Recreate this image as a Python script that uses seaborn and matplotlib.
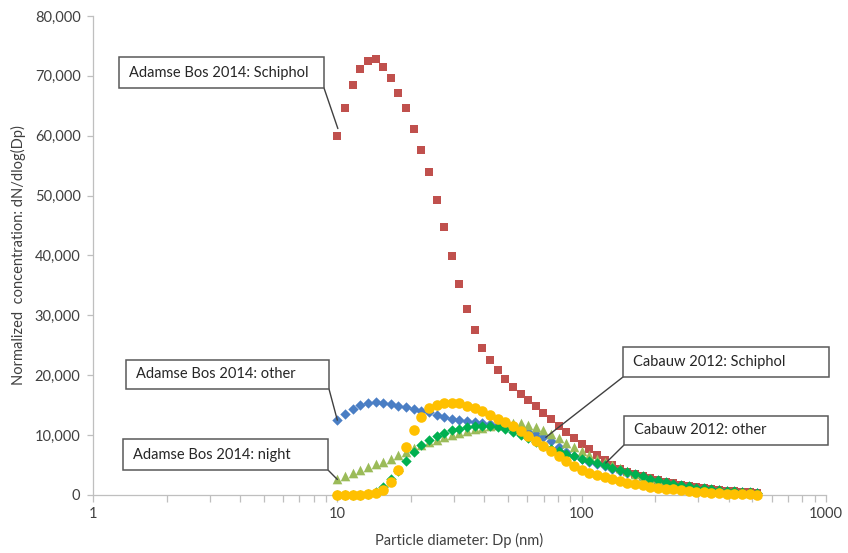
import matplotlib
matplotlib.use("Agg")
import matplotlib.pyplot as plt
from matplotlib.patches import Rectangle
from matplotlib.ticker import FuncFormatter, LogLocator, NullFormatter
import seaborn as sns

# particle diameters (nm), 32 channels per decade from 10 nm
diameter_nm = [10.0, 10.75, 11.55, 12.41, 13.34, 14.33, 15.40, 16.55, 17.78, 19.11,
               20.54, 22.07, 23.71, 25.48, 27.38, 29.43, 31.62, 33.98, 36.52, 39.24,
               42.17, 45.32, 48.70, 52.33, 56.23, 60.43, 64.94, 69.78, 74.99, 80.58,
               86.60, 93.06, 100.0, 107.5, 115.5, 124.1, 133.4, 143.3, 154.0, 165.5,
               177.8, 191.1, 205.4, 220.7, 237.1, 254.8, 273.8, 294.3, 316.2, 339.8,
               365.2, 392.4, 421.7, 453.2, 487.0, 523.3]

adamse_schiphol = [60000, 64600, 68500, 71100, 72500, 72800, 71500, 69700, 67200, 64600,
                   61200, 57700, 53900, 49300, 44800, 39900, 35300, 31100, 27600, 24600,
                   22600, 20900, 19300, 18100, 16900, 15900, 14800, 13700, 12700, 11600,
                   10500, 9600, 8600, 7700, 6700, 5800, 5000, 4300, 3900, 3550,
                   3200, 2850, 2550, 2250, 1980, 1730, 1520, 1320, 1150, 1000,
                   860, 740, 630, 540, 460, 390]

adamse_other = [12500, 13600, 14400, 15000, 15300, 15450, 15350, 15150, 14900, 14650,
                14350, 14100, 13800, 13400, 13000, 12750, 12550, 12350, 12150, 11950,
                11800, 11650, 11300, 11000, 10700, 10450, 10200, 9700, 9000, 8100,
                7200, 6500, 6000, 5550, 5150, 4800, 4400, 4000, 3650, 3300,
                2950, 2650, 2350, 2050, 1800, 1570, 1380, 1200, 1050, 900,
                780, 660, 560, 470, 390, 320]

adamse_night = [2600, 3150, 3600, 4100, 4600, 5100, 5550, 6000, 6600, 7200,
                7800, 8300, 8800, 9250, 9650, 10000, 10350, 10650, 10950, 11250,
                11500, 11700, 11850, 11950, 11950, 11750, 11400, 10900, 10250, 9500,
                8750, 8000, 7300, 6650, 6050, 5500, 4950, 4450, 4000, 3550,
                3150, 2800, 2450, 2150, 1880, 1630, 1420, 1230, 1060, 910,
                780, 660, 560, 470, 390, 320]

cabauw_other = [0, 0, 0, 50, 150, 500, 1300, 2600, 4000, 5700,
                7200, 8300, 9200, 9900, 10400, 10800, 11100, 11350, 11450, 11500,
                11500, 11350, 11050, 10600, 10100, 9500, 8900, 8250, 7750, 7300,
                6900, 6450, 6050, 5650, 5300, 4950, 4550, 4150, 3800, 3450,
                3100, 2750, 2450, 2150, 1900, 1650, 1450, 1250, 1100, 950,
                820, 700, 600, 500, 420, 350]

cabauw_schiphol = [0, 0, 0, 50, 150, 400, 900, 2100, 4200, 8000,
                   10900, 13000, 14500, 15100, 15350, 15400, 15300, 14900, 14500, 14000,
                   13400, 12750, 12150, 11450, 10650, 9900, 9100, 8200, 7300, 6450,
                   5650, 4900, 4250, 3750, 3400, 3000, 2650, 2350, 2080, 1830,
                   1600, 1400, 1230, 1080, 940, 810, 690, 580, 480, 390,
                   310, 240, 180, 130, 90, 60]

sns.set_theme(style="ticks")
plt.rcParams["font.family"] = ["Lato", "DejaVu Sans"]

W, H = 848, 553
fig = plt.figure(figsize=(W / 100, H / 100), dpi=100)
ax = fig.add_axes([93 / W, 1 - 495 / H, (826 - 93) / W, (495 - 16) / H])

# drawn in this order so the overlaps look like the original
series = [
    (adamse_other, "D", "#4A7EC4", 28),
    (adamse_schiphol, "s", "#C0504D", 40),
    (adamse_night, "^", "#9BBB59", 48),
    (cabauw_other, "D", "#00B050", 28),
    (cabauw_schiphol, "o", "#FFC000", 58),
]
for i, (vals, mk, col, size) in enumerate(series):
    sns.scatterplot(x=diameter_nm, y=vals, marker=mk, color=col, s=size,
                    linewidth=0, ax=ax, zorder=3 + i, clip_on=False, legend=False)

ax.set_xscale("log")
ax.set_xlim(1, 1000)
ax.set_ylim(0, 80000)
ax.set_yticks(range(0, 80001, 10000))
ax.yaxis.set_major_formatter(FuncFormatter(lambda v, _: f"{v:,.0f}"))
ax.set_xticks([1, 10, 100, 1000])
ax.xaxis.set_major_formatter(FuncFormatter(lambda v, _: f"{v:g}"))
ax.xaxis.set_minor_locator(LogLocator(base=10, subs=range(2, 10)))
ax.xaxis.set_minor_formatter(NullFormatter())

sns.despine(ax=ax)
for side in ["left", "bottom"]:
    ax.spines[side].set_color("#BFBFBF")
    ax.spines[side].set_linewidth(0.9)
ax.tick_params(axis="both", which="both", direction="out", color="#BFBFBF",
               labelcolor="#404040", labelsize=10.5, width=0.9)
ax.tick_params(axis="x", which="both", length=5, pad=4)
ax.tick_params(axis="y", which="major", length=4, pad=5)

ax.set_xlabel("Particle diameter: Dp (nm)", fontsize=10.5, color="#404040", labelpad=8)
ax.set_ylabel("Normalized  concentration: dN/dlog(Dp)", fontsize=10.5, color="#404040", labelpad=6)


def fig_xy(px, py):
    return px / W, 1 - py / H


# label boxes in pixel positions, pointer corner, pointer target (data)
callouts = [
    ("Adamse Bos 2014: Schiphol", (119, 57, 324, 88), (324, 88), (10.05, 61200)),
    ("Adamse Bos 2014: other", (126, 360, 329, 389), (329, 389), (10.0, 12500)),
    ("Adamse Bos 2014: night", (123, 439, 328, 470), (328, 470), (10.0, 2600)),
    ("Cabauw 2012: Schiphol", (623, 347, 829, 377), (623, 377), (71.3, 9630)),
    ("Cabauw 2012: other", (624, 416, 828, 445), (624, 445), (125.5, 5340)),
]
for label, (x0, y0, x1, y1), corner, target in callouts:
    fig.add_artist(Rectangle(fig_xy(x0, y1), (x1 - x0) / W, (y1 - y0) / H,
                             transform=fig.transFigure, facecolor="white",
                             edgecolor="#595959", lw=1.1, zorder=10))
    fig.text(*fig_xy(x0 + 10, (y0 + y1) / 2), label, ha="left", va="center",
             fontsize=10.5, color="#262626", zorder=11)
    ax.annotate("", xy=target, xycoords="data", xytext=fig_xy(*corner),
                textcoords="figure fraction",
                arrowprops=dict(arrowstyle="-", color="#404040", lw=1,
                                shrinkA=0, shrinkB=0), zorder=9)

fig.savefig("out.png", dpi=100)
